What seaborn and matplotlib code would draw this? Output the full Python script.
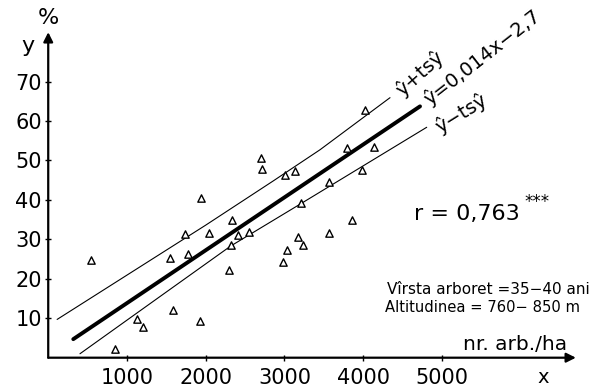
import matplotlib
matplotlib.use("Agg")
import matplotlib.pyplot as plt
import seaborn as sns
import pandas as pd

# Puncte (nr. arbori/ha, % )
nr_arb = [543, 854, 1133, 1200, 1584, 1927, 1546, 1779, 1736, 2045, 1946,
          2333, 2407, 2545, 2317, 2292, 2702, 2711, 3006, 3133, 2985, 3038,
          3171, 3235, 3206, 3571, 3568, 3790, 4136, 3980, 3857, 4028]
procent = [24.7, 2.1, 9.7, 7.7, 12.0, 9.3, 25.3, 26.2, 31.3, 31.5, 40.5,
           34.8, 31.2, 31.8, 28.6, 22.2, 50.6, 47.7, 46.4, 47.2, 24.2, 27.2,
           30.5, 28.5, 39.1, 44.6, 31.6, 53.1, 53.5, 47.5, 34.9, 62.8]

# dreapta de regresie (capetele trasate) si limitele de incredere
reg_x = [318, 4721]
reg_y = [4.7, 63.7]
sup_x = [113, 2000, 2857, 3451, 4340]
sup_y = [9.7, 33.6, 44.8, 52.7, 65.9]
inf_x = [403, 1419, 2317, 3197, 4806]
inf_y = [1.0, 15.5, 28.3, 38.9, 58.4]

x_ticks = [1000, 2000, 3000, 4000, 5000]
y_ticks = [10, 20, 30, 40, 50, 60, 70]

sns.set_theme(style="white")
plt.rcParams["font.family"] = ["DejaVu Sans"]
plt.rcParams["text.color"] = "black"

fig = plt.figure(figsize=(5.91, 3.92), dpi=100)
ax = fig.add_axes([0.0816, 0.0875, 0.8928, 0.8304])

df = pd.DataFrame({"x": nr_arb, "y": procent})
sns.scatterplot(data=df, x="x", y="y", marker="^", s=28,
                facecolor="white", edgecolor="black", linewidth=1.0,
                ax=ax, zorder=3)

sns.lineplot(x=reg_x, y=reg_y, color="black", lw=2.8, sort=False,
             estimator=None, ax=ax, zorder=2)
sns.lineplot(x=sup_x, y=sup_y, color="black", lw=0.8, sort=False,
             estimator=None, ax=ax, zorder=2)
sns.lineplot(x=inf_x, y=inf_y, color="black", lw=0.8, sort=False,
             estimator=None, ax=ax, zorder=2)

ax.set_xlim(0, 6700)
ax.set_ylim(0, 82.5)
for s in ax.spines.values():
    s.set_visible(False)

# axe cu sageti
ax.annotate("", xy=(6700, 0), xytext=(0, 0), xycoords="data",
            arrowprops=dict(arrowstyle="-|>", lw=1.6, color="black",
                            mutation_scale=14, shrinkA=0, shrinkB=0),
            annotation_clip=False)
ax.annotate("", xy=(0, 82.5), xytext=(0, 0), xycoords="data",
            arrowprops=dict(arrowstyle="-|>", lw=1.6, color="black",
                            mutation_scale=14, shrinkA=0, shrinkB=0),
            annotation_clip=False)

ax.set_xticks(x_ticks)
ax.set_yticks(y_ticks)
ax.tick_params(axis="both", direction="inout", length=5, width=1.0,
               labelsize=15, colors="black", bottom=True, left=True)
ax.tick_params(axis="x", pad=5)
ax.tick_params(axis="y", pad=2)
ax.set_xlabel("")
ax.set_ylabel("")
ax.grid(False)

ax.text(-0.038, 0.957, "y", transform=ax.transAxes, fontsize=16,
        ha="center", va="center")
ax.text(0.0, 1.044, "%", transform=ax.transAxes, fontsize=16,
        ha="center", va="center")
ax.text(0.938, -0.06, "x", transform=ax.transAxes, fontsize=14,
        ha="center", va="center")
ax.text(0.983, 0.042, "nr. arb./ha", transform=ax.transAxes, fontsize=14.5,
        ha="right", va="center")

ax.text(4720, 72.0, "ŷ+tsŷ", fontsize=14, rotation=42,
        ha="center", va="center")
ax.text(5508, 76.2, "ŷ=0,014x−2,7", fontsize=14, rotation=38,
        ha="center", va="center")
ax.text(5241, 61.9, "ŷ−tsŷ", fontsize=14, rotation=32,
        ha="center", va="center")

ax.text(0.693, 0.44, "r = 0,763", transform=ax.transAxes, fontsize=16,
        ha="left", va="center")
ax.text(0.902, 0.478, "***", transform=ax.transAxes, fontsize=12,
        ha="left", va="center")
ax.text(1.027, 0.208, "Vîrsta arboret =35−40 ani", transform=ax.transAxes,
        fontsize=11, ha="right", va="center")
ax.text(0.638, 0.153, "Altitudinea = 760− 850 m", transform=ax.transAxes,
        fontsize=10.6, ha="left", va="center")

fig.savefig("out.png", dpi=100)
